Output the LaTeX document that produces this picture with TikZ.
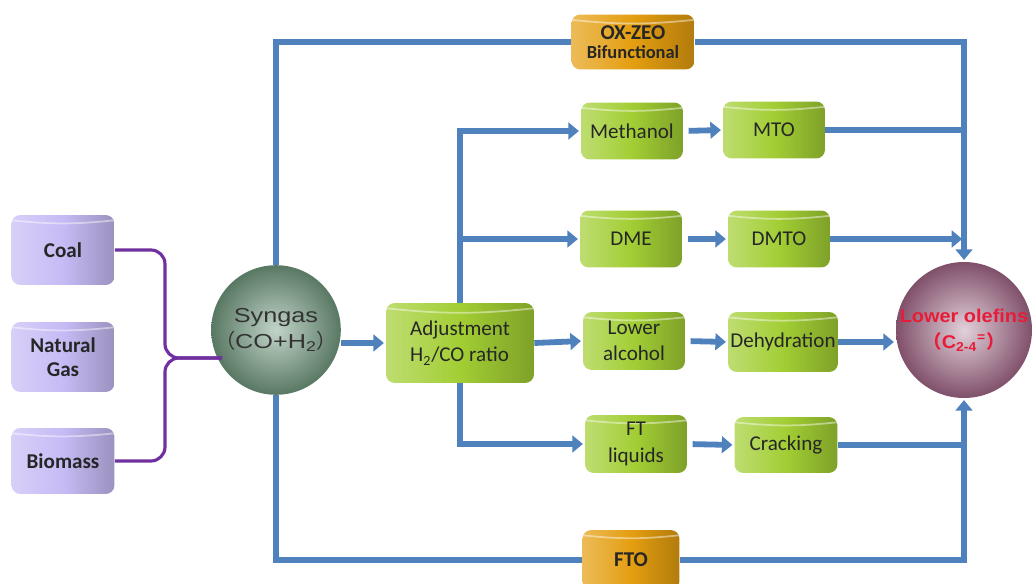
\documentclass[tikz,border=0pt]{standalone}
\usepackage{fontspec}
\setmainfont{Carlito}
\newfontfamily\widesans[FakeStretch=1.25]{Liberation Sans}
\newfontfamily\olefinsans[FakeStretch=1.08]{Liberation Sans}
\newfontfamily\cjk{Noto Sans CJK SC}
\usetikzlibrary{arrows.meta, calc}

\definecolor{flowblue}{RGB}{79,129,189}
\definecolor{bracepurple}{RGB}{112,48,160}
\definecolor{lavender}{RGB}{198,187,245}
\definecolor{leafgreen}{RGB}{162,206,52}
\definecolor{amber}{RGB}{228,158,16}
\definecolor{sage}{RGB}{118,160,132}
\definecolor{mauve}{RGB}{160,100,132}
\definecolor{olefred}{RGB}{232,28,56}

\begin{document}
\begin{tikzpicture}[x=0.02cm, y=-0.02cm,
    drum/.style={rectangle, rounded corners=5pt, left color=#1!70!white, right color=#1!78!black,
        middle color=#1, align=center, inner sep=1pt, text=black!85,
        font=\fontsize{12}{15}\selectfont,
        path picture={\draw[white, opacity=.45, line width=1pt]
            ([yshift=-3pt]path picture bounding box.north west) to[bend right=6]
            ([yshift=-3pt]path picture bounding box.north east);}},
    feed/.style={drum=lavender, minimum width=2.06cm, font=\bfseries\fontsize{12}{14}\selectfont},
    stage/.style={drum=leafgreen, minimum width=2.04cm, minimum height=1.14cm},
    route/.style={drum=amber, font=\bfseries\fontsize{12}{11}\selectfont},
    flow/.style={draw=flowblue, line width=3.3pt},
    arr/.style={flow, -{Triangle[length=6pt, width=9.5pt]}, shorten >=1pt},
    brace/.style={draw=bracepurple, line width=1.8pt, rounded corners=8pt}]
    \useasboundingbox (0,0) rectangle (1035,584);

    % Feedstocks
    \node[feed, minimum height=1.4cm] (coal) at (63,250) {Coal};
    \node[feed, minimum height=1.4cm] (gas) at (63,357) {Natural\\Gas};
    \node[feed, minimum height=1.32cm] (bio) at (63,461) {Biomass};

    % Syngas and the product
    \node[circle, minimum size=1.92cm, inner sep=0pt, inner color=sage!45!white, outer color=sage!75!black,
        align=center, text=black!80, font=\widesans\fontsize{11.5}{15}\selectfont]
        (syn) at (276,330) {Syngas\\{\cjk （}CO+H\textsubscript{2}{\cjk ）}};
    \node[circle, minimum size=2.72cm, inner sep=0pt, inner color=mauve!30!white, outer color=mauve!80!black,
        align=center, text=olefred, font=\olefinsans\bfseries\fontsize{10.5}{15}\selectfont]
        (olef) at (964,330) {Lower olefins\\{\cjk （}C\textsubscript{2-4}\textsuperscript{=}{\cjk ）}};

    % Direct routes
    \node[route, minimum width=2.46cm, minimum height=1.1cm] (ox) at (633,42)
        {OX-ZEO\\{\fontsize{10.5}{11}\selectfont Bifunctional}};
    \node[route, minimum width=1.94cm, minimum height=1.2cm] (fto) at (631,560) {FTO};

    % Indirect routes
    \node[drum=leafgreen, minimum width=2.96cm, minimum height=1.6cm, align=left] (adj) at (460,343)
        {Adjustment\\H\textsubscript{2}/CO ratio};
    \node[stage] (meth) at (632,131) {Methanol};
    \node[stage] (mto) at (774,130) {MTO};
    \node[stage] (dme) at (631,239) {DME};
    \node[stage] (dmto) at (779,239) {DMTO};
    \node[stage, minimum height=1.16cm] (lalc) at (634,341) {Lower\\alcohol};
    \node[stage, minimum width=2.2cm, minimum height=1.2cm] (dehy) at (783,342) {Dehydration};
    \node[stage, minimum height=1.16cm] (ftl) at (636,444) {FT\\liquids};
    \node[stage, minimum width=2.06cm, minimum height=1.12cm] (crack) at (786,445) {Cracking};

    % Feedstocks into syngas
    \coordinate (fork) at (165,358);
    \coordinate (tip) at (222,358);
    \draw[brace] (coal.east) -| (fork) -- (tip);
    \draw[brace] (bio.east) -| (fork) -- (tip);

    % One-step routes
    \draw[flow] (syn.north) |- (ox.west);
    \draw[arr] (ox.east) -| (olef.north);
    \draw[flow] (syn.south) |- (fto.west);
    \draw[arr] (fto.east) -| (olef.south);

    % Routes through the ratio adjustment
    \draw[arr] (adj.west -| syn.east) -- (adj.west);
    \draw[arr] (adj.north) |- (meth.west);
    \draw[arr] (adj.north |- dme.west) -- (dme.west);
    \draw[arr] (adj.east) -- (lalc.west);
    \draw[arr] (adj.south) |- (ftl.west);

    \draw[arr, shorten <=3pt] (meth.east) -- (mto.west);
    \draw[arr, shorten <=3pt] (dme.east) -- (dmto.west);
    \draw[arr, shorten <=3pt] (lalc.east) -- (dehy.west);
    \draw[arr, shorten <=3pt] (ftl.east) -- (crack.west);

    \draw[flow] (mto.east) -- (mto.east -| olef.north);
    \draw[arr] (dmto.east) -- (dmto.east -| olef.north);
    \draw[arr] (dehy.east) -- (dehy.east -| olef.west);
    \draw[flow] (crack.east) -- (crack.east -| olef.south);
\end{tikzpicture}
\end{document}
